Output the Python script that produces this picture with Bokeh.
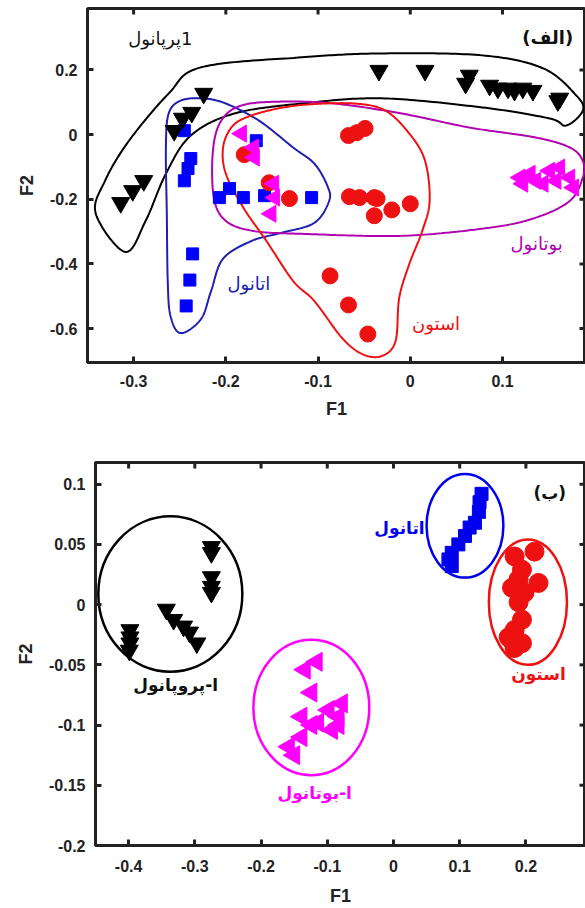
import numpy as np
from bokeh.plotting import figure
from bokeh.models import Range1d, Label, FixedTicker, CustomJSTickFormatter
from bokeh.embed import file_html
from bokeh.resources import INLINE

# ---------------- data: panel (الف) ----------------
a_prop_x = [-0.224, -0.237, -0.247, -0.256, -0.289, -0.301, -0.314, -0.034, 0.016, 0.064, 0.060,
            0.086, 0.095, 0.106, 0.113, 0.122, 0.133, 0.162, 0.160]
a_prop_y = [0.127, 0.068, 0.050, 0.012, -0.143, -0.174, -0.211, 0.198, 0.198, 0.183, 0.158,
            0.152, 0.143, 0.143, 0.136, 0.143, 0.136, 0.112, 0.104]
a_eth_x = [-0.245, -0.238, -0.241, -0.245, -0.167, -0.207, -0.196, -0.181, -0.158, -0.107,
           -0.236, -0.239, -0.243]
a_eth_y = [0.012, -0.074, -0.105, -0.143, -0.019, -0.195, -0.167, -0.195, -0.189, -0.195,
           -0.369, -0.450, -0.530]
a_ace_x = [-0.067, -0.058, -0.049, -0.066, -0.055, -0.039, -0.036, -0.020, 0.000, -0.039,
           -0.087, -0.067, -0.046, -0.180, -0.153, -0.131]
a_ace_y = [-0.003, 0.006, 0.019, -0.192, -0.195, -0.195, -0.198, -0.233, -0.214, -0.251,
           -0.437, -0.527, -0.617, -0.062, -0.149, -0.198]
a_but_x = [-0.183, -0.169, -0.170, -0.148, -0.151, -0.147, 0.119, 0.130, 0.136, 0.151, 0.162,
           0.173, 0.177, 0.122, 0.144, 0.158]
a_but_y = [0.003, -0.071, -0.040, -0.152, -0.245, -0.195, -0.133, -0.121, -0.143, -0.112, -0.102,
           -0.133, -0.164, -0.152, -0.152, -0.143]

# group outlines (panel الف)
a_prop_cx = [-0.309, -0.341, -0.331, -0.305, -0.262, -0.227, -0.118, -0.031, 0.078, 0.144, 0.180,
             0.187, 0.169, 0.151, 0.078, -0.031, -0.118, -0.191, -0.238, -0.265, -0.287]
a_prop_cy = [-0.363, -0.245, -0.143, -0.019, 0.127, 0.208, 0.239, 0.251, 0.245, 0.205, 0.121,
             0.074, 0.028, 0.050, 0.084, 0.112, 0.096, 0.065, -0.003, -0.121, -0.267]
a_eth_cx = [-0.225, -0.200, -0.164, -0.127, -0.104, -0.090, -0.088, -0.104, -0.140, -0.172,
            -0.203, -0.216, -0.227, -0.249, -0.260, -0.263, -0.264, -0.265, -0.262, -0.249]
a_eth_cy = [0.112, 0.096, 0.043, -0.040, -0.090, -0.158, -0.205, -0.273, -0.304, -0.329,
            -0.384, -0.484, -0.571, -0.614, -0.561, -0.453, -0.245, -0.040, 0.065, 0.105]
a_but_cx = [-0.183, -0.140, -0.082, -0.009, 0.064, 0.136, 0.173, 0.187, 0.187, 0.173, 0.136,
            0.086, -0.009, -0.118, -0.170, -0.200, -0.213, -0.214, -0.205]
a_but_cy = [0.090, 0.102, 0.096, 0.065, 0.022, -0.009, -0.040, -0.081, -0.133, -0.205, -0.257,
            -0.288, -0.313, -0.307, -0.298, -0.267, -0.195, -0.050, 0.043]
a_ace_cx = [-0.178, -0.148, -0.112, -0.060, -0.027, -0.001, 0.016, 0.021, 0.013, -0.001, -0.012,
            -0.016, -0.031, -0.052, -0.074, -0.104, -0.127, -0.156, -0.181, -0.200, -0.203, -0.194]
a_ace_cy = [0.053, 0.078, 0.093, 0.096, 0.074, 0.003, -0.081, -0.205, -0.298, -0.400, -0.505,
            -0.639, -0.685, -0.679, -0.629, -0.515, -0.453, -0.329, -0.226, -0.121, -0.040, 0.022]

a_xticks = [-0.3, -0.2, -0.1, 0, 0.1]
a_xlabels = ["-0.3", "-0.2", "-0.1", "0", "0.1"]
a_yticks = [-0.6, -0.4, -0.2, 0, 0.2]
a_ylabels = ["-0.6", "-0.4", "-0.2", "0", "0.2"]

a_texts = ["\u200f1پرپانول", "(الف)", "اتانول", "بوتانول", "استون"]
a_text_x = [-0.271, 0.149, -0.175, 0.137, 0.028]
a_text_y = [0.298, 0.301, -0.462, -0.338, -0.583]

# ---------------- data: panel (ب) ----------------
b_prop_x = [-0.398, -0.398, -0.398, -0.399, -0.343, -0.332, -0.317, -0.308, -0.297,
            -0.275, -0.275, -0.275, -0.275, -0.275]
b_prop_y = [-0.021, -0.027, -0.032, -0.038, -0.004, -0.0125, -0.018, -0.023, -0.032,
            0.048, 0.043, 0.023, 0.015, 0.010]
b_eth_x = [0.133, 0.130, 0.129, 0.123, 0.115, 0.108, 0.098, 0.088, 0.083, 0.088]
b_eth_y = [0.092, 0.085, 0.077, 0.068, 0.064, 0.057, 0.050, 0.043, 0.0375, 0.032]
b_ace_x = [0.213, 0.183, 0.194, 0.189, 0.219, 0.198, 0.179, 0.189, 0.194, 0.183, 0.174, 0.194,
           0.183, 0.179]
b_ace_y = [0.044, 0.040, 0.029, 0.021, 0.018, 0.010, 0.014, 0.002, -0.0125, -0.021, -0.027,
           -0.032, -0.036, -0.030]
b_but_x = [-0.116, -0.134, -0.124, -0.139, -0.098, -0.078, -0.083, -0.114, -0.139, -0.158,
           -0.093, -0.124, -0.083, -0.150]
b_but_y = [-0.0475, -0.054, -0.073, -0.093, -0.0875, -0.082, -0.093, -0.098, -0.110, -0.118,
           -0.104, -0.100, -0.100, -0.125]

# group ellipses (panel ب): centre x, centre y, width, height
b_ell_x = [-0.337, 0.108, 0.203, -0.124]
b_ell_y = [0.0088, 0.0654, 0.002, -0.0854]
b_ell_w = [0.2175, 0.116, 0.118, 0.175]
b_ell_h = [0.129, 0.086, 0.104, 0.1125]
b_ell_c = ["#000000", "#0000ee", "#ee1111", "#ff00ff"]

b_xticks = [-0.4, -0.3, -0.2, -0.1, 0, 0.1, 0.2]
b_xlabels = ["-0.4", "-0.3", "-0.2", "-0.1", "0", "0.1", "0.2"]
b_yticks = [-0.2, -0.15, -0.1, -0.05, 0, 0.05, 0.1]
b_ylabels = ["-0.2", "-0.15", "-0.1", "-0.05", "0", "0.05", "0.1"]

b_texts = ["ا-پروپانول", "اتانول", "استون", "ا-بوتانول", "(ب)"]
b_text_x = [-0.329, 0.009, 0.219, -0.119, 0.236]
b_text_y = [-0.0667, 0.064, -0.058, -0.156, 0.093]
b_text_c = ["#111111", "#0000ee", "#ee1111", "#ff00ff", "#111111"]

AX = "#222222"
FONT = "Liberation Sans"
AR_FONT = "DejaVu Sans"


def fmt(tv, tl):
    return CustomJSTickFormatter(args=dict(tv=tv, tl=tl), code="""
        let best = 0;
        for (let i = 0; i < tv.length; i++) {
            if (Math.abs(tv[i] - tick) < Math.abs(tv[best] - tick)) best = i;
        }
        return tl[best];
    """)


def smooth_closed(xs, ys, n=24):
    P = np.column_stack([xs, ys]).astype(float)
    N = len(P)
    t = np.linspace(0, 1, n, endpoint=False)[:, None]
    segs = []
    for i in range(N):
        p0, p1, p2, p3 = P[(i - 1) % N], P[i], P[(i + 1) % N], P[(i + 2) % N]
        seg = 0.5 * ((2 * p1) + (-p0 + p2) * t + (2 * p0 - 5 * p1 + 4 * p2 - p3) * t ** 2
                     + (-p0 + 3 * p1 - 3 * p2 + p3) * t ** 3)
        segs.append(seg)
    segs.append(P[:1])
    pts = np.vstack(segs)
    return pts[:, 0], pts[:, 1]


def style_axis(ax, ticks, labels):
    ax.ticker = FixedTicker(ticks=ticks)
    ax.formatter = fmt(ticks, labels)
    ax.axis_line_width = 3
    ax.axis_line_color = AX
    ax.major_tick_in = 6
    ax.major_tick_out = 0
    ax.minor_tick_in = 0
    ax.minor_tick_out = 0
    ax.major_tick_line_width = 3
    ax.major_tick_line_color = AX
    ax.minor_tick_line_color = None
    ax.major_label_text_font = FONT
    ax.major_label_text_font_style = "bold"
    ax.major_label_text_color = AX
    ax.major_label_text_font_size = "16px"
    ax.axis_label_text_font = FONT
    ax.axis_label_text_font_style = "bold"
    ax.axis_label_text_font_size = "18px"
    ax.axis_label_text_color = AX


def make_fig(width, height, xr, yr, xt, xl, yt, yl, borders, xstand):
    p = figure(width=width, height=height, x_range=Range1d(*xr), y_range=Range1d(*yr),
               output_backend="svg", toolbar_location=None,
               min_border_left=borders[0], min_border_right=borders[1],
               min_border_top=borders[2], min_border_bottom=borders[3])
    p.grid.visible = False
    p.outline_line_color = AX
    p.outline_line_width = 3
    p.background_fill_color = "white"
    p.border_fill_color = "white"
    p.xaxis.axis_label = "F1"
    p.yaxis.axis_label = "F2"
    style_axis(p.xaxis[0], xt, xl)
    style_axis(p.yaxis[0], yt, yl)
    p.xaxis[0].major_label_standoff = xstand[0]
    p.xaxis[0].axis_label_standoff = xstand[1]
    p.yaxis[0].major_label_standoff = 10
    p.yaxis[0].axis_label_standoff = 10
    # mirrored inward ticks on the top and right frame edges
    p.scatter(xt, [yr[1]] * len(xt), marker="dash", angle=np.pi / 2, size=12,
              line_color=AX, line_width=3)
    p.scatter([xr[1]] * len(yt), yt, marker="dash", size=12, line_color=AX, line_width=3)
    return p


# ---------------- panel (الف) ----------------
p1 = make_fig(585, 428, (-0.35, 0.19), (-0.705, 0.39),
              a_xticks, a_xlabels, a_yticks, a_ylabels, (87, 0, 8, 66), (12, 9))

for cx, cy, col in [(a_prop_cx, a_prop_cy, "#000000"), (a_eth_cx, a_eth_cy, "#2020b0"),
                    (a_but_cx, a_but_cy, "#b000b0"), (a_ace_cx, a_ace_cy, "#ee1111")]:
    sx, sy = smooth_closed(cx, cy)
    p1.line(sx, sy, line_color=col, line_width=2)

p1.scatter(a_eth_x, a_eth_y, marker="square", size=12, fill_color="#0000ff", line_color="#0000ff")
p1.scatter(a_ace_x, a_ace_y, marker="circle", size=16, fill_color="#ee1111", line_color="#ee1111")
p1.scatter(a_but_x, a_but_y, marker="triangle", angle=np.pi / 2, size=17,
           fill_color="#ff00ff", line_color="#ff00ff")
p1.scatter(a_prop_x, a_prop_y, marker="inverted_triangle", size=18,
           fill_color="#000000", line_color="#000000")

a_cols = ["#111111", "#111111", "#2020b0", "#b000b0", "#ee1111"]
a_bold = ["normal", "bold", "normal", "normal", "normal"]
for t, x, y, c, b in zip(a_texts, a_text_x, a_text_y, a_cols, a_bold):
    p1.add_layout(Label(x=x, y=y, text=t, text_color=c, text_font=AR_FONT, text_font_size="18px",
                        text_font_style=b, text_align="center", text_baseline="middle"))

# ---------------- panel (ب) ----------------
p2 = make_fig(585, 480, (-0.45, 0.29), (-0.2, 0.118),
              b_xticks, b_xlabels, b_yticks, b_ylabels, (95, 0, 34, 63), (14, 11))

p2.ellipse(b_ell_x, b_ell_y, width=b_ell_w, height=b_ell_h, fill_color=None,
           line_color=b_ell_c, line_width=2.5)
p2.scatter(b_eth_x, b_eth_y, marker="square", size=13, fill_color="#0000ee", line_color="#0000ee")
p2.scatter(b_ace_x, b_ace_y, marker="circle", size=19, fill_color="#ee1111", line_color="#ee1111")
p2.scatter(b_but_x, b_but_y, marker="triangle", angle=np.pi / 2, size=19,
           fill_color="#ff00ff", line_color="#ff00ff")
p2.scatter(b_prop_x, b_prop_y, marker="inverted_triangle", size=18,
           fill_color="#000000", line_color="#000000")

for t, x, y, c in zip(b_texts, b_text_x, b_text_y, b_text_c):
    p2.add_layout(Label(x=x, y=y, text=t, text_color=c, text_font=AR_FONT, text_font_size="17px",
                        text_font_style="bold", text_align="center", text_baseline="middle"))

open("out.html", "w").write(file_html([p1, p2], INLINE))
